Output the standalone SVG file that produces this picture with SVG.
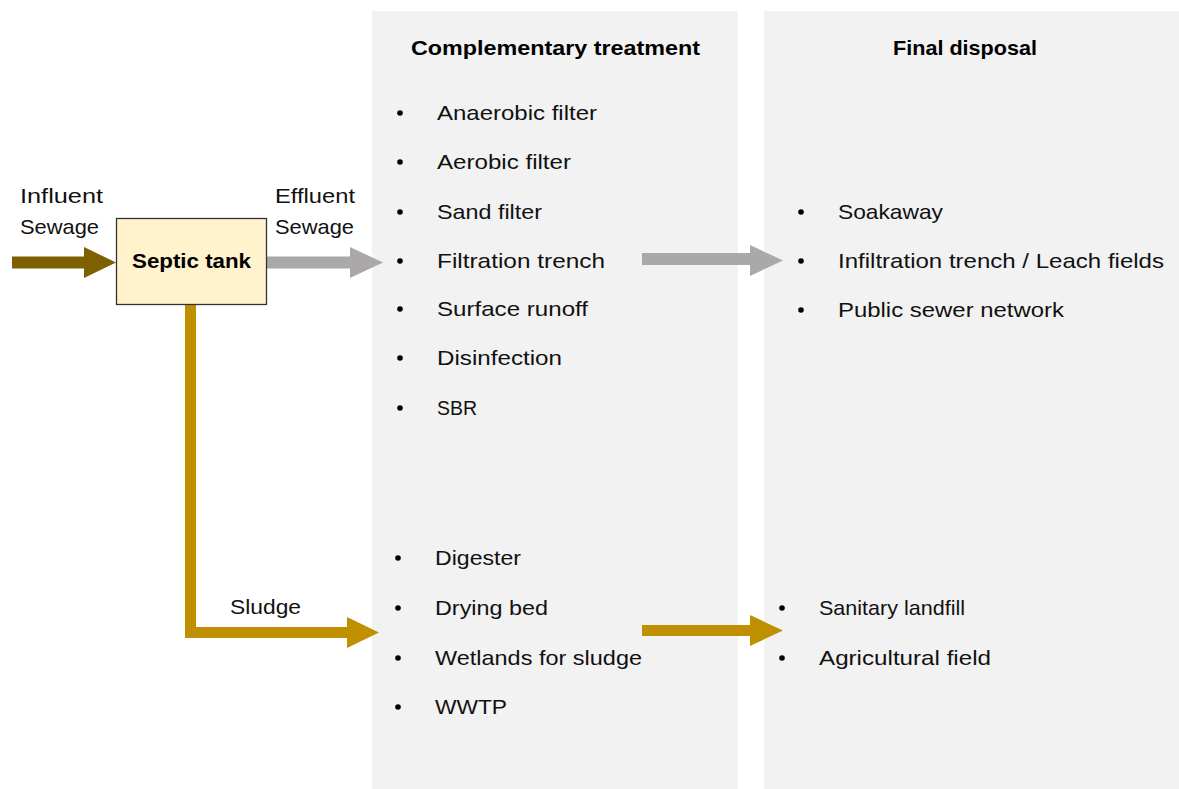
<svg xmlns="http://www.w3.org/2000/svg" width="1179" height="789" viewBox="0 0 1179 789">
<style>
.t{font-family:"Liberation Sans",Arial,sans-serif;font-size:21px;fill:#111}
.b{font-family:"Liberation Sans",Arial,sans-serif;font-size:21px;font-weight:bold;fill:#000}
.dot{fill:#000}
.panel{fill:#f2f2f2}
</style>
<rect width="1179" height="789" fill="#fff"/>
<g id="panel-complementary">
<rect class="panel" x="372" y="11" width="366" height="778"/>
<text class="b" x="411" y="55" textLength="289" lengthAdjust="spacingAndGlyphs">Complementary treatment</text>
<g id="list-effluent-treatment">
<circle class="dot" cx="400" cy="113" r="2.8"/><text class="t" x="437" y="120" textLength="160" lengthAdjust="spacingAndGlyphs">Anaerobic filter</text>
<circle class="dot" cx="400" cy="162" r="2.8"/><text class="t" x="437" y="169" textLength="134" lengthAdjust="spacingAndGlyphs">Aerobic filter</text>
<circle class="dot" cx="400" cy="212" r="2.8"/><text class="t" x="437" y="219" textLength="105" lengthAdjust="spacingAndGlyphs">Sand filter</text>
<circle class="dot" cx="400" cy="261" r="2.8"/><text class="t" x="437" y="268" textLength="168" lengthAdjust="spacingAndGlyphs">Filtration trench</text>
<circle class="dot" cx="400" cy="309" r="2.8"/><text class="t" x="437" y="316" textLength="151" lengthAdjust="spacingAndGlyphs">Surface runoff</text>
<circle class="dot" cx="400" cy="358" r="2.8"/><text class="t" x="437" y="365" textLength="125" lengthAdjust="spacingAndGlyphs">Disinfection</text>
<circle class="dot" cx="400" cy="408" r="2.8"/><text class="t" x="437" y="415" textLength="40" lengthAdjust="spacingAndGlyphs">SBR</text>
</g>
<g id="list-sludge-treatment">
<circle class="dot" cx="398" cy="558" r="2.8"/><text class="t" x="435" y="565" textLength="86" lengthAdjust="spacingAndGlyphs">Digester</text>
<circle class="dot" cx="398" cy="608" r="2.8"/><text class="t" x="435" y="615" textLength="113" lengthAdjust="spacingAndGlyphs">Drying bed</text>
<circle class="dot" cx="398" cy="658" r="2.8"/><text class="t" x="435" y="665" textLength="207" lengthAdjust="spacingAndGlyphs">Wetlands for sludge</text>
<circle class="dot" cx="398" cy="707" r="2.8"/><text class="t" x="435" y="714" textLength="72" lengthAdjust="spacingAndGlyphs">WWTP</text>
</g>
</g>
<g id="panel-final">
<rect class="panel" x="764" y="11" width="415" height="778"/>
<text class="b" x="893" y="55" textLength="144" lengthAdjust="spacingAndGlyphs">Final disposal</text>
<g id="list-effluent-disposal">
<circle class="dot" cx="801" cy="212" r="2.8"/><text class="t" x="838" y="219" textLength="105" lengthAdjust="spacingAndGlyphs">Soakaway</text>
<circle class="dot" cx="801" cy="261" r="2.8"/><text class="t" x="838" y="268" textLength="326" lengthAdjust="spacingAndGlyphs">Infiltration trench / Leach fields</text>
<circle class="dot" cx="801" cy="310" r="2.8"/><text class="t" x="838" y="317" textLength="226" lengthAdjust="spacingAndGlyphs">Public sewer network</text>
</g>
<g id="list-sludge-disposal">
<circle class="dot" cx="782" cy="608" r="2.8"/><text class="t" x="819" y="615" textLength="146" lengthAdjust="spacingAndGlyphs">Sanitary landfill</text>
<circle class="dot" cx="782" cy="658" r="2.8"/><text class="t" x="819" y="665" textLength="172" lengthAdjust="spacingAndGlyphs">Agricultural field</text>
</g>
</g>
<g id="connectors">
<polygon id="influent-arrow" fill="#7f6000" points="12,256.5 84,256.5 84,247 116,262.5 84,278 84,268.5 12,268.5"/>
<polygon id="effluent-arrow" fill="#aaa8a8" points="267,256.5 350,256.5 350,247 383,262.5 350,278 350,268.5 267,268.5"/>
<polygon id="effluent-final-arrow" fill="#aaa8a8" points="642,253 750,253 750,245 783,260.5 750,276 750,265 642,265"/>
<polygon id="sludge-arrow" fill="#bf9000" points="185,305 196,305 196,627 347,627 347,617 379,632.5 347,648 347,638 185,638"/>
<polygon id="sludge-final-arrow" fill="#bf9000" points="642,625 750,625 750,615 783,630.5 750,646 750,636 642,636"/>
<text class="t" x="20" y="203" textLength="83" lengthAdjust="spacingAndGlyphs">Influent</text>
<text class="t" x="20" y="234" textLength="79" lengthAdjust="spacingAndGlyphs">Sewage</text>
<text class="t" x="275" y="203" textLength="80" lengthAdjust="spacingAndGlyphs">Effluent</text>
<text class="t" x="275" y="234" textLength="79" lengthAdjust="spacingAndGlyphs">Sewage</text>
<text class="t" x="230" y="614" textLength="71" lengthAdjust="spacingAndGlyphs">Sludge</text>
</g>
<g id="septic-tank">
<rect x="116.5" y="218.5" width="150" height="86" fill="#fff2cc" stroke="#333" stroke-width="1.3"/>
<text class="b" x="132" y="268" textLength="119" lengthAdjust="spacingAndGlyphs">Septic tank</text>
</g>
</svg>
